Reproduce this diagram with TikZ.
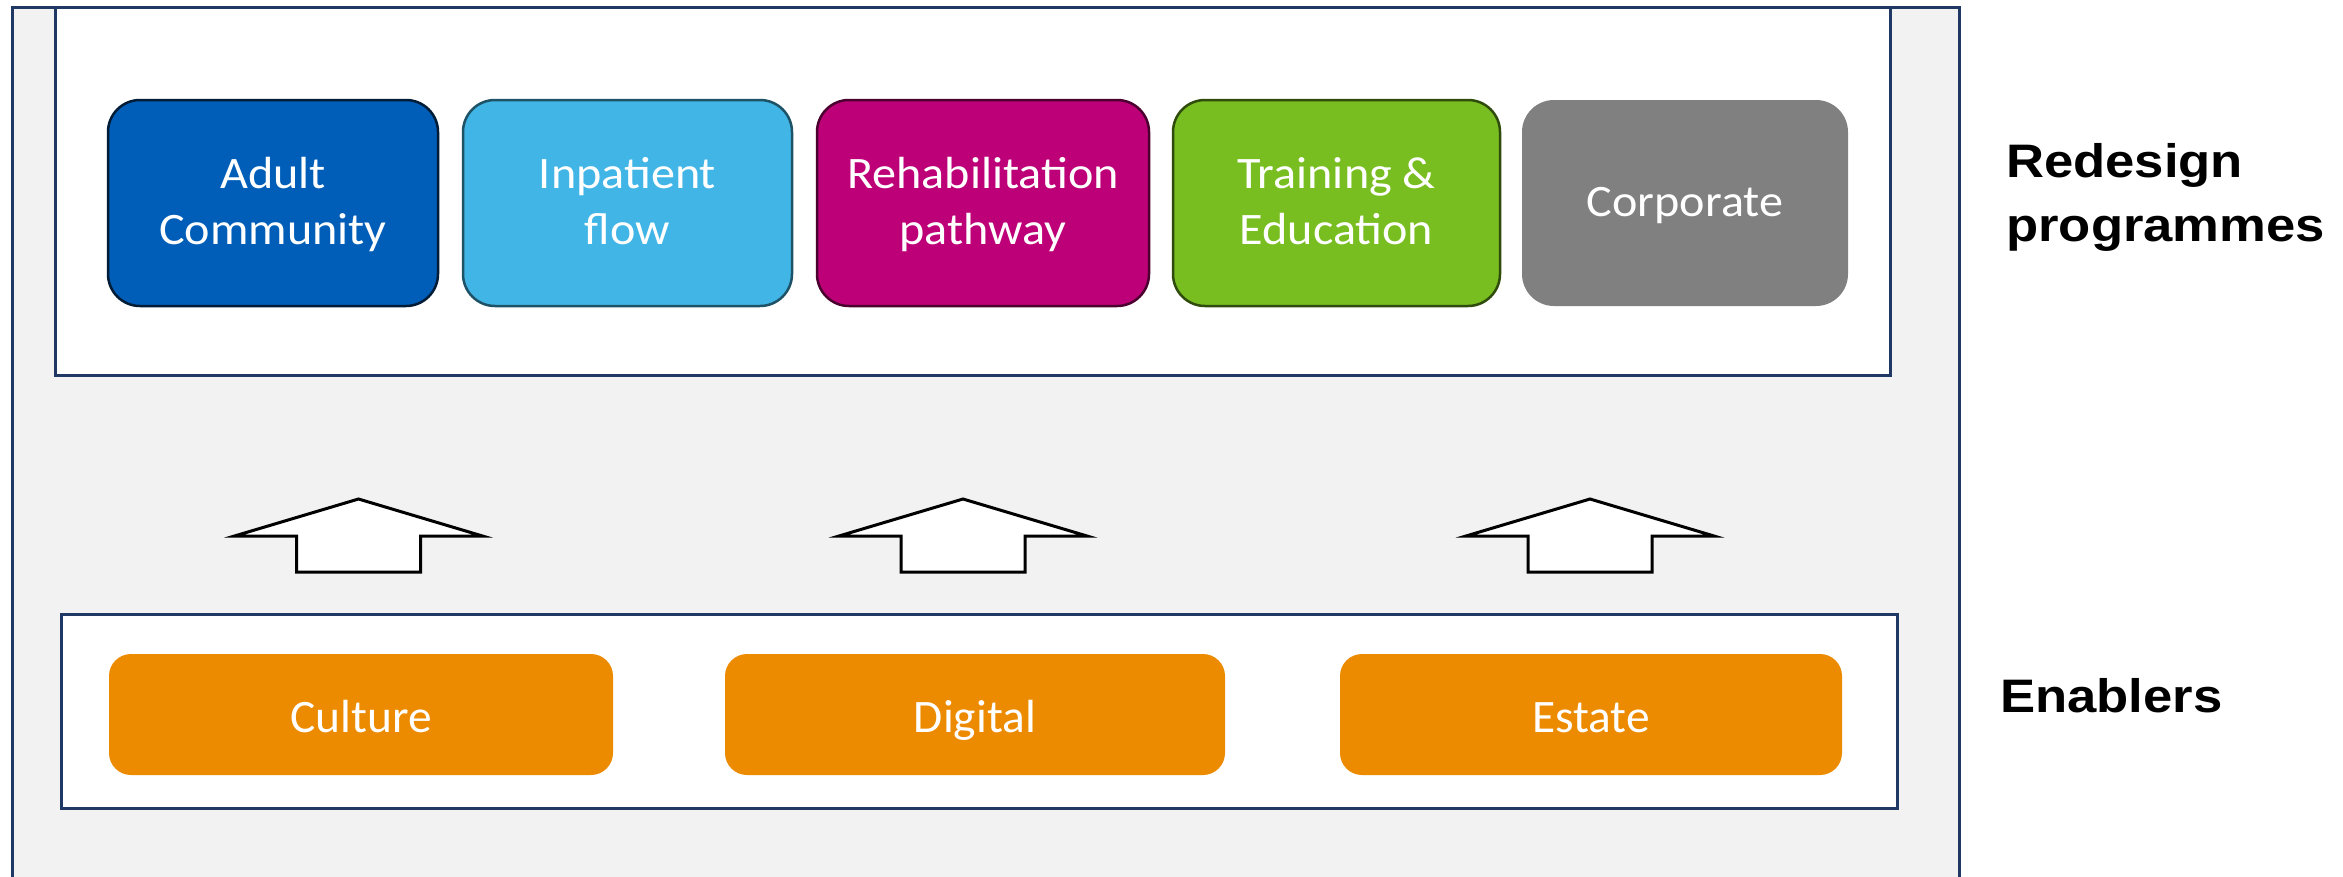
\documentclass[tikz,border=0pt]{standalone}
\usepackage{fontspec}
\setmainfont{Carlito}[FakeStretch=1.07]
\newfontfamily\enabfont{Carlito}[FakeStretch=1.02]
\newfontfamily\labelfont{Liberation Sans}[FakeStretch=1.12]
\definecolor{navy}{HTML}{1F3864}
\definecolor{bggrey}{HTML}{F2F2F2}
\definecolor{adultblue}{HTML}{005EB8}
\definecolor{inpblue}{HTML}{41B6E6}
\definecolor{rehab}{HTML}{BE0078}
\definecolor{train}{HTML}{78BE20}
\definecolor{corp}{HTML}{808080}
\definecolor{orangeE}{HTML}{ED8B00}
\newcommand\mystrutA{\rule[-10pt]{0pt}{46pt}}
\tikzset{
  prog/.style={rounded corners=32pt, line width=2.5pt, minimum height=206pt, inner sep=0pt, outer sep=0pt, text=white, align=center, font=\fontsize{45}{56}\selectfont},
  enab/.style={rounded corners=22pt, fill=orangeE, minimum height=121pt, inner sep=0pt, outer sep=0pt, text=white, align=center, text height=36pt, text depth=1pt, font=\enabfont\fontsize{46.5}{56}\selectfont},
  panel/.style={fill=white, draw=navy, line width=3pt},
  bigarrow/.style={fill=white, draw=black, line width=3pt},
  sidelabel/.style={align=left, inner sep=0pt, font=\labelfont\bfseries\fontsize{47}{64}\selectfont}
}
\begin{document}
\begin{tikzpicture}[x=1pt,y=-1pt]
\useasboundingbox (0,0) rectangle (2343,876);
\begin{scope}
\clip (0,0) rectangle (2343,876);
\draw[fill=bggrey, draw=navy, line width=3pt] (12,7) rectangle (1959,900);
\end{scope}
\draw[panel] (55,7) rectangle (1890,375);
\draw[panel] (61,614) rectangle (1897,808);
% programme boxes
\node[prog, fill=adultblue, draw=black!70!adultblue, minimum width=330pt] (adult) at (273,203) {\mystrutA Adult\\Community\mystrutA};
\node[prog, fill=inpblue, draw=black!55!inpblue, minimum width=329pt] (inp) at (627.5,203) {\mystrutA Inpatient\\flow\mystrutA};
\node[prog, fill=rehab, draw=black!60!rehab, minimum width=332pt] (reh) at (983,203) {\mystrutA Rehabilitation\\pathway\mystrutA};
\node[prog, fill=train, draw=black!60!train, minimum width=327pt] (trn) at (1336.5,203) {\mystrutA Training \&\\Education\mystrutA};
\node[prog, fill=corp, minimum width=326pt, text height=30pt, text depth=4pt] (corp) at (1685,203) {Corporate};
% enablers
\node[enab, minimum width=504pt] (cult) at (361,714.5) {Culture};
\node[enab, minimum width=500pt] (dig) at (975,714.5) {Digital};
\node[enab, minimum width=502pt] (est) at (1591,714.5) {Estate};
% arrows
\foreach \c in {358.5,963,1590}{
  \draw[bigarrow] (\c,499) -- (\c+124,536) -- (\c+62,536) -- (\c+62,572) -- (\c-62,572) -- (\c-62,536) -- (\c-124,536) -- cycle;
}
% labels
\node[sidelabel, anchor=west] (lred) at (2006,197) {Redesign\\programmes};
\node[sidelabel, anchor=base west] (lenab) at (2000,712) {Enablers};
\end{tikzpicture}
\end{document}
